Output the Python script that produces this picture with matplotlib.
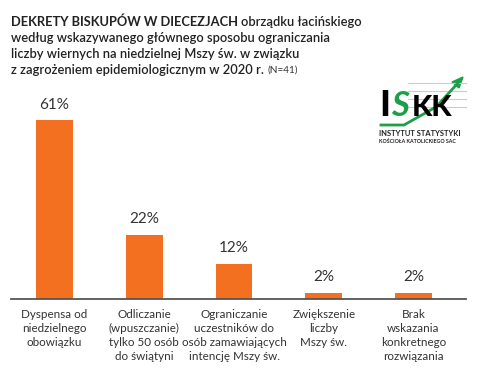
import matplotlib
matplotlib.use("Agg")
import matplotlib.pyplot as plt
from matplotlib.patches import Polygon

plt.rcParams['font.family'] = ['Lato', 'DejaVu Sans']

# dane
categories = [
    "Dyspensa od\nniedzielnego\nobowiązku",
    "Odliczanie\n(wpuszczanie)\ntylko 50 osób\ndo świątyni",
    "Ograniczanie\nuczestników do\nosób zamawiających\nintencję Mszy św.",
    "Zwiększenie\nliczby\nMszy św.",
    "Brak\nwskazania\nkonkretnego\nrozwiązania",
]
values = [61, 22, 12, 2, 2]
value_labels = ["61%", "22%", "12%", "2%", "2%"]

W, H = 478, 375
ORANGE = "#F37021"
TXT = "#333333"

fig = plt.figure(figsize=(W / 100, H / 100), dpi=100)
fig.patch.set_facecolor("white")

# axes in pixel coordinates: left 11, right 466, baseline y=299 (from top)
ax_left, ax_right = 11, 466
base_y, top_y = 299, 94
ax = fig.add_axes([ax_left / W, (H - base_y) / H,
                   (ax_right - ax_left) / W, (base_y - top_y) / H])
ax.set_xlim(-0.485, 4.585)
ax.set_ylim(0, 70)

x = list(range(len(values)))
ax.bar(x, values, width=0.41, color=ORANGE, zorder=2)
for xi, v, lab in zip(x, values, value_labels):
    ax.text(xi, v + 3.0, lab, ha="center", va="bottom", fontsize=11,
            color=TXT)

for side in ["top", "right", "left"]:
    ax.spines[side].set_visible(False)
ax.spines["bottom"].set_color("#555555")
ax.spines["bottom"].set_linewidth(1.3)
ax.set_yticks([])
ax.set_xticks(x)
ax.set_xticklabels(categories, fontsize=8.4, color=TXT, linespacing=1.35,
                   va="top")
ax.tick_params(axis="x", length=0, pad=7)

# tytuł
fig.canvas.draw()
renderer = fig.canvas.get_renderer()
TS = 9.3
t1 = fig.text(11 / W, 1 - 22 / H, "DEKRETY BISKUPÓW W DIECEZJACH ",
              fontsize=TS, fontweight="bold", color="#222222", va="center")
bb = t1.get_window_extent(renderer)
fig.text(bb.x1 / W, 1 - 22 / H, "obrządku łacińskiego", fontsize=TS,
         fontweight="semibold", color="#222222", va="center")
lines = ["według wskazywanego głównego sposobu ograniczania",
         "liczby wiernych na niedzielnej Mszy św. w związku",
         "z zagrożeniem epidemiologicznym w 2020 r. "]
for i, line in enumerate(lines):
    t = fig.text(11 / W, 1 - (38 + 16 * i) / H, line, fontsize=TS,
                 fontweight="semibold", color="#222222", va="center")
bb = t.get_window_extent(renderer)
fig.text(bb.x1 / W, 1 - 70 / H, "(N=41)", fontsize=7.2, color="#333333",
         va="center")

# logo ISKK (uproszczone)
lax = fig.add_axes([378 / W, 1 - 150 / H, 90 / W, 75 / H])
lax.set_xlim(0, 90)
lax.set_ylim(75, 0)
lax.axis("off")
for yy in [8, 16, 24, 32]:
    lax.plot([30, 88], [yy, yy], color="#cccccc", lw=0.8)
lax.text(1, 31, "I", fontsize=26, fontweight="black", color="black",
         va="center", ha="left")
lax.text(13, 31, "S", fontsize=25, fontstyle="italic", fontweight="bold",
         color="#1f9e4a", va="center", ha="left")
lax.text(34, 33, "KK", fontsize=21, fontweight="black", color="black",
         va="center", ha="left")
lax.plot([3, 26, 58, 80], [50, 50, 32, 8], color="#1f9e4a", lw=2)
lax.add_patch(Polygon([[85, 2], [74, 7], [81, 13]], closed=True,
                      color="#1f9e4a"))
lax.text(1, 58, "INSTYTUT STATYSTYKI", fontsize=5.4, fontweight="bold",
         color="#222222", va="center", ha="left")
lax.text(1, 66, "KOŚCIOŁA KATOLICKIEGO SAC", fontsize=3.8,
         fontweight="bold", color="#222222", va="center", ha="left")

fig.savefig("out.png", dpi=100)
